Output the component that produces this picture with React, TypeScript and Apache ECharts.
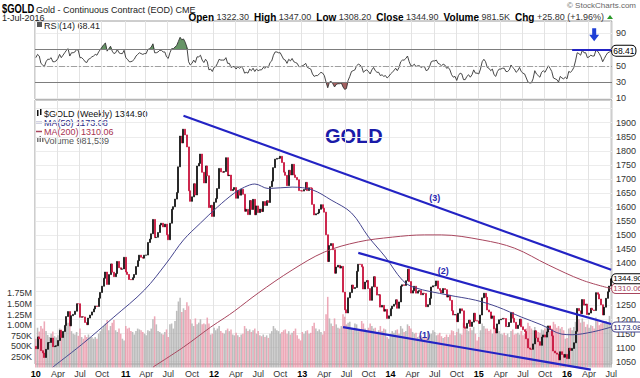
import React, { useEffect, useRef } from "react";
import * as echarts from "echarts";

// ---------------- data ----------------
const firstWeekUTC = Date.UTC(2010, 0, 1); // weekly bars, Fridays
const firstOpen = 1104.3;

const close2010 = [
  1096.2, 1138.2, 1131.0, 1089.4, 1081.0, 1065.0, 1094.1, 1118.0, 1118.4, 1134.0, 1103.5, 1105.4, 1106.6,
  1125.4, 1161.2, 1136.2, 1157.6, 1179.2, 1210.5, 1228.3, 1177.5, 1213.6, 1218.3, 1229.7, 1256.3, 1256.2,
  1208.0, 1210.0, 1209.3, 1189.6, 1181.7, 1205.3, 1215.8, 1227.1, 1237.6, 1248.3, 1246.5, 1275.9, 1296.2,
  1318.4, 1346.7, 1368.9, 1324.9, 1359.8, 1397.7, 1368.5, 1352.6, 1363.4, 1406.6, 1384.2, 1379.0, 1380.0, 1421.4,
];
const close2011 = [
  1369.0, 1360.4, 1342.4, 1341.4, 1348.7, 1360.2, 1388.4, 1409.3, 1429.0, 1421.4, 1418.3, 1428.9,
  1429.4, 1474.0, 1486.0, 1504.9, 1556.0, 1491.4, 1492.7, 1509.6, 1536.3, 1542.6, 1529.5, 1539.3, 1501.4,
  1483.7, 1542.5, 1592.0, 1601.3, 1628.3, 1651.4, 1743.0, 1852.4, 1828.0, 1876.9, 1856.6, 1813.9, 1657.9, 1620.4,
  1636.3, 1682.8, 1643.0, 1746.0, 1755.2, 1788.5, 1723.7, 1685.7, 1746.2, 1711.3, 1598.2, 1606.0, 1566.8,
];
const close2012 = [
  1617.0, 1630.0, 1665.8, 1737.3, 1725.2, 1723.7, 1726.5, 1775.5, 1711.6, 1713.8, 1658.6, 1662.6, 1669.3,
  1631.3, 1659.0, 1642.3, 1663.2, 1645.4, 1585.0, 1592.1, 1573.1, 1623.0, 1591.3, 1627.4, 1572.7, 1604.2,
  1580.4, 1592.9, 1584.1, 1619.5, 1605.7, 1622.6, 1616.2, 1672.5, 1692.2, 1740.2, 1770.4, 1773.1, 1773.4,
  1780.5, 1758.2, 1724.2, 1712.8, 1676.2, 1730.7, 1714.1, 1752.0, 1714.1, 1705.4, 1696.9, 1658.5, 1657.6,
];
const close2013 = [
  1656.8, 1662.2, 1687.7, 1658.6, 1668.6, 1667.3, 1609.5, 1572.1, 1576.2, 1578.9, 1592.0, 1608.4, 1595.7,
  1581.9, 1501.4, 1406.2, 1462.9, 1470.0, 1448.3, 1364.7, 1386.6, 1393.0, 1383.1, 1389.1, 1297.5, 1234.6,
  1223.4, 1277.4, 1295.8, 1322.7, 1310.2, 1313.9, 1371.6, 1396.4, 1396.1, 1387.4, 1308.6, 1333.3, 1338.6,
  1310.1, 1268.4, 1316.6, 1352.3, 1315.8, 1287.0, 1288.3, 1244.2, 1250.4, 1229.9, 1236.0, 1204.1, 1213.1,
];
const close2014 = [
  1238.4, 1247.6, 1254.1, 1270.2, 1240.1, 1262.6, 1318.6, 1323.6, 1321.4, 1338.0, 1379.1, 1334.9, 1294.0,
  1302.8, 1318.3, 1293.9, 1300.6, 1302.9, 1288.1, 1293.4, 1292.8, 1245.6, 1253.0, 1275.4, 1315.8, 1320.0,
  1320.3, 1337.3, 1310.2, 1303.9, 1294.4, 1310.2, 1306.3, 1280.0, 1286.7, 1268.3, 1231.3, 1216.0, 1218.1,
  1192.4, 1222.5, 1238.1, 1231.0, 1171.6, 1169.0, 1186.4, 1197.9, 1175.5, 1190.9, 1222.4, 1195.6, 1195.0,
];
const close2015 = [
  1186.2, 1216.1, 1277.1, 1293.5, 1279.2, 1234.1, 1227.2, 1204.2, 1213.0, 1167.4, 1152.2, 1184.5, 1199.1,
  1201.5, 1204.1, 1203.5, 1174.9, 1175.2, 1189.5, 1225.3, 1204.8, 1190.2, 1168.1, 1180.0, 1201.2, 1174.2,
  1164.0, 1157.4, 1131.7, 1099.2, 1095.0, 1094.0, 1113.4, 1160.1, 1134.6, 1121.4, 1108.4, 1137.6, 1145.2,
  1137.5, 1156.0, 1177.4, 1163.7, 1142.0, 1088.1, 1081.2, 1077.0, 1056.6, 1085.4, 1075.8, 1066.0, 1076.0, 1061.1,
];
const close2016 = [
  1098.0, 1090.2, 1097.2, 1117.4, 1158.0, 1239.4, 1231.0, 1221.0, 1271.0, 1251.2, 1254.7, 1218.0,
  1223.0, 1240.1, 1234.1, 1232.0, 1295.6, 1290.0, 1273.0, 1252.5, 1216.3, 1244.0, 1275.4, 1298.6, 1319.1, 1344.9,
];

const rsi2010 = [60, 64, 62, 53, 51, 49, 55, 58, 58, 60, 55, 55, 56, 59, 64, 60, 63, 66, 69, 71, 62, 66, 66, 67, 70, 69, 60, 60, 58, 55, 54, 58, 59, 61, 62, 64, 63, 67, 70, 73, 76, 78, 68, 71, 74, 68, 65, 66, 70, 66, 65, 65, 69];
const rsi2011 = [60, 58, 55, 55, 56, 58, 62, 64, 66, 65, 64, 65, 65, 70, 71, 73, 77, 66, 66, 67, 69, 69, 67, 67, 61, 59, 66, 71, 71, 73, 75, 80, 85, 82, 83, 79, 73, 55, 51, 53, 57, 54, 61, 61, 63, 57, 54, 58, 55, 45, 46, 43];
const rsi2012 = [48, 49, 53, 58, 57, 57, 57, 60, 53, 53, 48, 49, 49, 46, 49, 47, 49, 47, 41, 42, 41, 46, 44, 47, 43, 46, 44, 45, 45, 48, 47, 49, 48, 54, 56, 63, 67, 67, 66, 66, 62, 58, 57, 53, 58, 56, 59, 55, 54, 53, 49, 49];
const rsi2013 = [50, 51, 53, 48, 47, 46, 40, 37, 38, 38, 40, 42, 41, 38, 30, 23, 30, 31, 28, 24, 27, 28, 28, 29, 24, 21, 22, 32, 37, 43, 44, 45, 50, 52, 51, 49, 42, 44, 45, 43, 40, 45, 48, 44, 42, 42, 38, 39, 37, 38, 35, 37];
const rsi2014 = [40, 42, 44, 47, 44, 48, 55, 57, 57, 59, 62, 55, 50, 50, 52, 49, 50, 50, 48, 49, 49, 44, 45, 49, 55, 56, 56, 57, 53, 52, 50, 52, 51, 47, 48, 45, 39, 36, 37, 32, 38, 41, 40, 33, 33, 37, 39, 36, 39, 45, 41, 41];
const rsi2015 = [40, 46, 55, 58, 55, 48, 47, 44, 46, 39, 37, 43, 46, 46, 47, 47, 43, 43, 45, 51, 48, 46, 42, 44, 48, 43, 41, 40, 35, 30, 29, 29, 34, 44, 40, 38, 36, 42, 44, 42, 46, 50, 47, 43, 35, 34, 33, 30, 37, 35, 34, 36, 34];
const rsi2016 = [43, 42, 44, 48, 56, 66, 65, 63, 69, 66, 66, 60, 61, 63, 62, 62, 69, 68, 65, 61, 55, 59, 63, 66, 67, 68.41];

const volK2010 = [680, 940, 850, 980, 920, 1090, 860, 770, 720, 800, 850, 740, 710, 760, 920, 900, 860, 980, 1140, 1060, 1120, 860, 800, 780, 840, 750, 920, 720, 680, 760, 720, 780, 700, 720, 680, 720, 680, 800, 860, 920, 980, 1040, 1120, 880, 980, 1060, 1120, 880, 840, 920, 800, 680, 640];
const volK2011 = [980, 920, 940, 860, 840, 780, 860, 920, 900, 880, 840, 800, 760, 880, 860, 920, 1140, 1210, 1020, 860, 840, 800, 780, 840, 900, 720, 1020, 1040, 920, 1100, 1340, 1560, 1650, 1310, 1400, 1360, 1540, 1450, 1140, 1040, 980, 1160, 1020, 1060, 1140, 1020, 1040, 1020, 1180, 1040, 780, 800];
const volK2012 = [940, 880, 920, 980, 860, 820, 800, 880, 920, 860, 900, 780, 760, 820, 760, 720, 780, 800, 980, 920, 860, 900, 840, 880, 920, 800, 860, 760, 740, 780, 720, 760, 700, 800, 860, 980, 920, 880, 860, 800, 840, 880, 900, 800, 860, 780, 820, 860, 920, 760, 680, 640];
const volK2013 = [840, 800, 860, 880, 800, 820, 980, 1060, 920, 860, 900, 840, 780, 860, 1260, 1670, 1160, 1040, 980, 1160, 1020, 940, 920, 980, 1260, 1200, 1020, 1060, 1080, 920, 880, 1040, 1020, 860, 880, 1100, 1040, 920, 860, 940, 1040, 980, 920, 940, 840, 880, 980, 860, 920, 900, 720, 680];
const volK2014 = [800, 860, 820, 880, 900, 800, 980, 920, 840, 860, 1020, 980, 920, 840, 800, 820, 720, 740, 760, 720, 700, 720, 860, 780, 800, 880, 840, 760, 780, 820, 740, 700, 720, 780, 720, 780, 880, 860, 760, 840, 920, 800, 780, 1060, 980, 900, 860, 940, 880, 960, 800, 640];
const volK2015 = [720, 880, 1040, 980, 920, 920, 860, 900, 800, 980, 940, 920, 860, 800, 780, 820, 760, 800, 720, 860, 900, 780, 800, 820, 780, 860, 760, 800, 920, 1060, 980, 920, 880, 960, 860, 840, 820, 900, 880, 920, 980, 940, 860, 920, 1080, 1020, 940, 980, 920, 960, 880, 680, 700];
const volK2016 = [920, 940, 880, 960, 1080, 1300, 1140, 1060, 1160, 1080, 960, 1020, 940, 1000, 980, 920, 1180, 1100, 1000, 1040, 1100, 1060, 1100, 1040, 1220, 981.539];

// moving averages: [week index, value]
const ma50Points: [number, number][] = [
  [10, 1031], [28, 1116], [46, 1209], [64, 1305], [77, 1401], [87, 1483], [97, 1543], [107, 1600],
  [117, 1650], [123, 1671], [129, 1682], [137, 1666], [151, 1671], [163, 1661], [174, 1625], [186, 1579],
  [196, 1494], [206, 1422], [216, 1340], [223, 1314], [243, 1287], [259, 1269], [272, 1245], [286, 1209],
  [298, 1181], [310, 1148], [316, 1146], [328, 1156], [339, 1173.08],
];
const ma200Points: [number, number][] = [
  [69, 1031], [87, 1102], [103, 1173], [111, 1205], [117, 1230], [131, 1294], [151, 1376], [170, 1440],
  [190, 1476], [210, 1493], [229, 1501], [239, 1501], [263, 1483], [282, 1454], [302, 1394], [322, 1340],
  [339, 1310.06],
];

// hand-drawn trend lines: [startWeek, startPrice, endWeek, endPrice]
const trendLines: [number, number, number, number][] = [
  [87, 1925, 339, 1377],
  [190, 1437, 339, 1184],
  [181, 1173, 327, 1022],
];
const trendLabels: [string, number, number][] = [
  ["(3)", 235, 1632],
  ["(2)", 240, 1372],
  ["(1)", 229, 1145],
];
const rsiMarkLine: [number, number, number] = [316, 339, 70];
const rsiArrow: [number, number] = [329, 88];

const quote = { open: "1322.30", high: "1347.00", low: "1308.20", close: "1344.90", volume: "981.5K", chg: "+25.80 (+1.96%)" };
const legendText = { price: "$GOLD (Weekly) 1344.90", ma50: "MA(50) 1173.08", ma200: "MA(200) 1310.06", vol: "Volume 981,539", rsi: "RSI(14) 68.41" };
const monthNames = ["Jan", "Feb", "Mar", "Apr", "May", "Jun", "Jul", "Aug", "Sep", "Oct", "Nov", "Dec"];

// ---------------- layout constants ----------------
const FONT = "'Liberation Sans', Arial, Helvetica, sans-serif";
const LEFT = 35;
const RIGHT = 28;
const MAIN_TOP = 100;
const MAIN_BOTTOM = 367;
const DATA_BOTTOM = 373; // data area reaches a little below the frame so the lowest trend line fits
const Y_AT_1900 = 122.7;
const PX_PER_UNIT = 0.2812;
const priceY = (p: number) => Y_AT_1900 + (1900 - p) * PX_PER_UNIT;
const yPrice = (y: number) => 1900 - (y - Y_AT_1900) / PX_PER_UNIT;
const RSI_TOP = 21;
const RSI_BOTTOM = 99;
const RSI_Y0 = 106.5;
const RSI_K = 0.814;
const rsiY = (v: number) => RSI_Y0 - RSI_K * v;
const yRsi = (y: number) => (RSI_Y0 - y) / RSI_K;
const VOL_BASE = 367.5;
const VOL_PX_PER_M = 42.3;
const volY = (v: number) => VOL_BASE - (v / 1e6) * VOL_PX_PER_M;

const BLUE = "#2323c4";
const MA50_C = "#45458f";
const MA200_C = "#a8465e";

export default function App() {
  const ref = useRef<HTMLDivElement>(null);

  useEffect(() => {
    if (!ref.current) return;
    const closes = [...close2010, ...close2011, ...close2012, ...close2013, ...close2014, ...close2015, ...close2016];
    const rsi = [...rsi2010, ...rsi2011, ...rsi2012, ...rsi2013, ...rsi2014, ...rsi2015, ...rsi2016];
    const volK = [...volK2010, ...volK2011, ...volK2012, ...volK2013, ...volK2014, ...volK2015, ...volK2016];
    const N = closes.length;
    const pad = (n: number) => String(n).padStart(2, "0");
    const dates = closes.map((_, i) => {
      const d = new Date(firstWeekUTC + i * 7 * 86400000);
      return `${d.getUTCFullYear()}-${pad(d.getUTCMonth() + 1)}-${pad(d.getUTCDate())}`;
    });
    const monthOf = (i: number) => parseInt(dates[i].slice(5, 7), 10);
    const qInt = (i: number) => i === 0 || (monthOf(i) !== monthOf(i - 1) && (monthOf(i) - 1) % 3 === 0);

    const candles = closes.map((c, i) => {
      const o = i === 0 ? firstOpen : closes[i - 1];
      return [o, c, Math.min(o, c), Math.max(o, c)];
    });
    const vols = volK.map((v, i) => {
      const prev = i === 0 ? firstOpen : closes[i - 1];
      const down = closes[i] < prev;
      return { value: v * 1000, itemStyle: { color: down ? "#e893a6" : "#acacac" } };
    });

    const xAxisBase = (gridIndex: number, showSplit: boolean, showLabels: boolean) => ({
      type: "category",
      gridIndex,
      data: dates,
      boundaryGap: true,
      axisLine: { show: false },
      axisTick: { show: false },
      splitLine: { show: showSplit, interval: qInt, lineStyle: { color: "#e3e3e3", width: 1 } },
      axisLabel: showLabels
        ? {
            show: true,
            interval: qInt,
            margin: 5,
            fontSize: 9,
            fontFamily: FONT,
            color: "#333",
            formatter: (v: string) => {
              const m = parseInt(v.slice(5, 7), 10);
              return m === 1 ? `{y|${v.slice(2, 4)}}` : `{m|${monthNames[m - 1]}}`;
            },
            rich: {
              y: { fontWeight: "bold", fontSize: 9, color: "#000", fontFamily: FONT },
              m: { fontSize: 9, color: "#333", fontFamily: FONT },
            },
          }
        : { show: false },
    });

    const frame = { show: true, borderColor: "#9c9c9c", borderWidth: 1, backgroundColor: "transparent" };
    const labelStyle = { fontSize: 9, fontFamily: FONT, color: "#333" };
    const tag = (color: string, text: string) => ({
      fontSize: 8, fontFamily: FONT, color: text, backgroundColor: "#fff",
      borderColor: color, borderWidth: 1, borderRadius: 4, padding: [1, 1, 0, 1],
    });

    const option: any = {
      animation: false,
      backgroundColor: "#fff",
      grid: [
        { left: LEFT, right: RIGHT, top: RSI_TOP, height: RSI_BOTTOM - RSI_TOP, ...frame }, // 0 RSI data + frame
        { left: LEFT, right: RIGHT, top: rsiY(90), height: rsiY(10) - rsiY(90) }, // 1 RSI labels
        { left: LEFT, right: RIGHT, top: MAIN_TOP, height: DATA_BOTTOM - MAIN_TOP }, // 2 price data
        { left: LEFT, right: RIGHT, top: priceY(1950), height: priceY(1050) - priceY(1950) }, // 3 price labels
        { left: LEFT, right: RIGHT, top: volY(1.75e6), height: volY(0) - volY(1.75e6) }, // 4 volume
        { left: LEFT, right: RIGHT, top: MAIN_TOP, height: MAIN_BOTTOM - MAIN_TOP, ...frame }, // 5 main frame + dates
      ],
      xAxis: [
        xAxisBase(0, true, false),
        xAxisBase(1, false, false),
        xAxisBase(2, false, false),
        xAxisBase(3, false, false),
        xAxisBase(4, false, false),
        xAxisBase(5, true, true),
      ],
      yAxis: [
        { type: "value", gridIndex: 0, min: yRsi(RSI_BOTTOM), max: yRsi(RSI_TOP), show: false },
        {
          type: "value", gridIndex: 1, min: 10, max: 90, interval: 20, position: "right",
          axisLine: { show: false }, axisTick: { show: false },
          axisLabel: { ...labelStyle, margin: 4 },
          splitLine: { show: true, lineStyle: { color: "#ececec" } },
        },
        { type: "value", gridIndex: 2, min: yPrice(DATA_BOTTOM), max: yPrice(MAIN_TOP), show: false },
        {
          type: "value", gridIndex: 3, min: 1050, max: 1950, interval: 50, position: "right",
          axisLine: { show: false }, axisTick: { show: false },
          axisLabel: { ...labelStyle, margin: 4, formatter: (v: number) => (v > 1900 ? "" : String(v)) },
          splitLine: { show: true, lineStyle: { color: "#ececec" } },
        },
        {
          type: "value", gridIndex: 4, min: 0, max: 1750000, interval: 250000, position: "left",
          axisLine: { show: false }, axisTick: { show: false },
          axisLabel: {
            ...labelStyle, margin: 3,
            formatter: (v: number) => (v === 0 ? "" : v >= 1e6 ? (v / 1e6).toFixed(2) + "M" : v / 1000 + "K"),
          },
          splitLine: { show: false },
        },
        { type: "value", gridIndex: 5, min: 0, max: 1, show: false },
      ],
      series: [
        {
          type: "bar", name: "Volume", xAxisIndex: 4, yAxisIndex: 4, data: vols,
          barCategoryGap: "8%", z: 1, silent: true, itemStyle: { opacity: 0.8 },
        },
        {
          type: "candlestick", name: "$GOLD", xAxisIndex: 2, yAxisIndex: 2, data: candles,
          barWidth: 1.5, z: 3, silent: true,
          itemStyle: { color: "#111", color0: "#c8103a", borderColor: "#111", borderColor0: "#c8103a", borderWidth: 0.8 },
          markLine: {
            silent: true, symbol: ["none", "none"], animation: false,
            lineStyle: { color: BLUE, width: 2.2, type: "solid" },
            label: { show: false },
            data: trendLines.map(([a, pa, b, pb]) => [{ coord: [dates[a], pa] }, { coord: [dates[b], pb] }]),
          },
          markPoint: {
            silent: true, animation: false,
            data: [
              ...trendLabels.map(([t, i, p]) => ({
                coord: [dates[i], p], symbol: "circle", symbolSize: 0,
                label: { show: true, position: "inside", formatter: t, color: "#2828b0", fontWeight: "bold", fontSize: 9, fontFamily: FONT },
              })),
              {
                coord: [dates[N - 1], closes[N - 1]], symbol: "circle", symbolSize: 0,
                label: { show: true, position: "right", distance: 1, formatter: closes[N - 1].toFixed(2), ...tag("#000", "#000") },
              },
            ],
          },
        },
        {
          type: "line", name: "MA(50)", xAxisIndex: 2, yAxisIndex: 2, z: 4, silent: true,
          data: ma50Points.map(([i, v]) => [dates[i], v]), smooth: 0.35, symbol: "none",
          lineStyle: { color: MA50_C, width: 1 },
          endLabel: { show: true, distance: 1, formatter: (p: any) => Number(p.value[1]).toFixed(2), ...tag(MA50_C, "#22226a") },
        },
        {
          type: "line", name: "MA(200)", xAxisIndex: 2, yAxisIndex: 2, z: 4, silent: true,
          data: ma200Points.map(([i, v]) => [dates[i], v]), smooth: 0.35, symbol: "none",
          lineStyle: { color: MA200_C, width: 1 },
          endLabel: { show: true, distance: 1, formatter: (p: any) => Number(p.value[1]).toFixed(2), ...tag(MA200_C, MA200_C) },
        },
        // RSI shading helpers
        {
          type: "line", xAxisIndex: 0, yAxisIndex: 0, stack: "ob", silent: true, symbol: "none",
          data: rsi.map(() => 70), lineStyle: { opacity: 0 }, z: 2,
        },
        {
          type: "line", xAxisIndex: 0, yAxisIndex: 0, stack: "ob", silent: true, symbol: "none",
          data: rsi.map((v) => Math.max(v - 70, 0)), lineStyle: { opacity: 0 },
          areaStyle: { color: "#5f8f5f", opacity: 0.95 }, z: 2,
        },
        {
          type: "line", xAxisIndex: 0, yAxisIndex: 0, stack: "os", silent: true, symbol: "none",
          data: rsi.map((v) => Math.min(v, 30)), lineStyle: { opacity: 0 }, z: 2,
        },
        {
          type: "line", xAxisIndex: 0, yAxisIndex: 0, stack: "os", silent: true, symbol: "none",
          data: rsi.map((v) => 30 - Math.min(v, 30)), lineStyle: { opacity: 0 },
          areaStyle: { color: "#a05858", opacity: 0.95 }, z: 2,
        },
        {
          type: "line", name: "RSI(14)", xAxisIndex: 0, yAxisIndex: 0, data: rsi, symbol: "none", z: 4, silent: true,
          lineStyle: { color: "#333", width: 0.9 },
          endLabel: { show: true, distance: 1, formatter: (p: any) => Number(p.value).toFixed(2), ...tag("#000", "#000"), fontSize: 8.5 },
          markLine: {
            silent: true, symbol: ["none", "none"], animation: false, label: { show: false },
            data: [
              { yAxis: 70, lineStyle: { color: "#7d7d7d", width: 1, type: "solid" } },
              { yAxis: 30, lineStyle: { color: "#7d7d7d", width: 1, type: "solid" } },
              { yAxis: 50, lineStyle: { color: "#a0a0a0", width: 1, type: [6, 2, 2, 2] } },
              [
                { coord: [dates[rsiMarkLine[0]], rsiMarkLine[2]], lineStyle: { color: BLUE, width: 2, type: "solid" } },
                { coord: [dates[rsiMarkLine[1]], rsiMarkLine[2]] },
              ],
            ],
          },
          markPoint: {
            silent: true, animation: false,
            data: [
              {
                coord: [dates[rsiArrow[0]], rsiArrow[1]],
                symbol: "path://M3,0L7,0L7,6L10,6L5,12L0,6L3,6Z",
                symbolSize: [10, 13],
                itemStyle: { color: "#1f3fd6" },
                label: { show: false },
              },
            ],
          },
        },
      ],
      graphic: [
        { type: "text", x: 2, y: 3, scaleX: 0.78, style: { text: "$GOLD", font: `bold 12px ${FONT}`, fill: "#000" } },
        { type: "text", x: 36, y: 5, style: { text: "Gold - Continuous Contract (EOD) CME", font: `9px ${FONT}`, fill: "#222" } },
        { type: "text", x: 2, y: 13, style: { text: "1-Jul-2016", font: `9px ${FONT}`, fill: "#222" } },
        { type: "text", x: 636, y: 1, style: { text: "© StockCharts.com", font: `8px ${FONT}`, fill: "#666", textAlign: "right" } },
        {
          type: "text", x: 604, y: 12,
          style: {
            text: `{b|Open} ${quote.open}  {b|High} ${quote.high}  {b|Low} ${quote.low}  {b|Close} ${quote.close}  {b|Volume} ${quote.volume}  {b|Chg} ${quote.chg}`,
            font: `9px ${FONT}`, fill: "#333", textAlign: "right",
            rich: { b: { fontWeight: "bold", fontSize: 10, fontFamily: FONT, fill: "#000" } },
          },
        },
        { type: "polygon", shape: { points: [[607, 19], [613, 19], [610, 15]] }, style: { fill: "#2a9a2a" } },
        // RSI legend
        { type: "rect", shape: { x: 37, y: 22, width: 5, height: 5 }, style: { fill: "#555" } },
        { type: "text", x: 44, y: 21, style: { text: legendText.rsi, font: `9px ${FONT}`, fill: "#222" } },
        // main legend
        { type: "rect", shape: { x: 37, y: 110, width: 1.5, height: 6 }, style: { fill: "#111" } },
        { type: "rect", shape: { x: 40, y: 109, width: 1.5, height: 6 }, style: { fill: "#111" } },
        { type: "text", x: 44, y: 109, style: { text: legendText.price, font: `9px ${FONT}`, fill: "#111" } },
        { type: "line", shape: { x1: 36, y1: 122.5, x2: 42, y2: 122.5 }, style: { stroke: MA50_C, lineWidth: 1.5 } },
        { type: "text", x: 44, y: 118, style: { text: legendText.ma50, font: `9px ${FONT}`, fill: "#2b2b86" } },
        { type: "line", shape: { x1: 36, y1: 131.5, x2: 42, y2: 131.5 }, style: { stroke: MA200_C, lineWidth: 1.5 } },
        { type: "text", x: 44, y: 127, style: { text: legendText.ma200, font: `9px ${FONT}`, fill: "#a8334f" } },
        { type: "rect", shape: { x: 37, y: 138, width: 1.5, height: 4 }, style: { fill: "#777" } },
        { type: "rect", shape: { x: 39.5, y: 136, width: 1.5, height: 6 }, style: { fill: "#777" } },
        { type: "rect", shape: { x: 42, y: 137, width: 1.5, height: 5 }, style: { fill: "#777" } },
        { type: "text", x: 44, y: 136, style: { text: legendText.vol, font: `9px ${FONT}`, fill: "#555" } },
        // title
        { type: "text", x: 325, y: 126, style: { text: "GOLD", font: `bold 20px ${FONT}`, fill: "#1a1aa8" } },
      ],
    };

    const chart = echarts.init(ref.current, null, { renderer: "svg" });
    chart.setOption(option);
    return () => chart.dispose();
  }, []);

  return <div ref={ref} style={{ position: "absolute", left: 0, top: 0, width: 640, height: 378 }} />;
}
